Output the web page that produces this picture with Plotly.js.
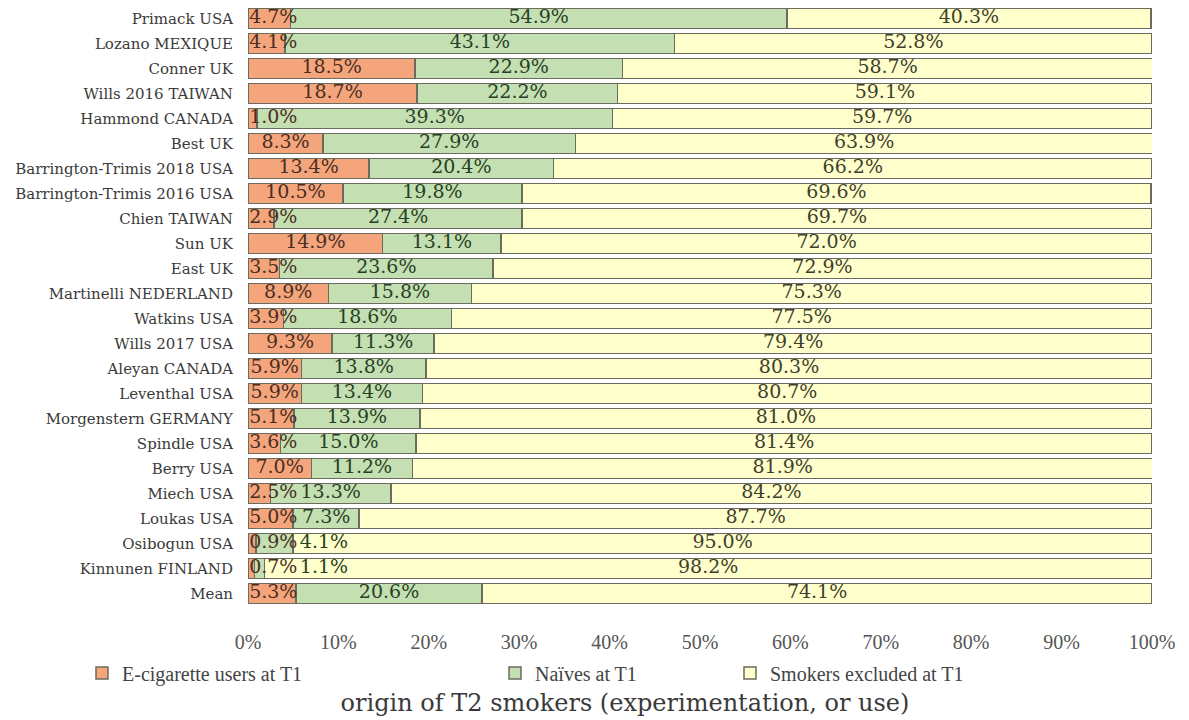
<!DOCTYPE html>
<html>
<head>
<meta charset="utf-8">
<script src="https://cdn.plot.ly/plotly-3.0.1.min.js"></script>
<style>body{margin:0;background:#fff}#chart{width:1189px;height:720px}</style>
</head>
<body>
<div id="chart"></div>
<script>
const studies = ["Primack USA","Lozano MEXIQUE","Conner UK","Wills 2016 TAIWAN","Hammond CANADA","Best UK","Barrington-Trimis 2018 USA","Barrington-Trimis 2016 USA","Chien TAIWAN","Sun UK","East UK","Martinelli NEDERLAND","Watkins USA","Wills 2017 USA","Aleyan CANADA","Leventhal USA","Morgenstern GERMANY","Spindle USA","Berry USA","Miech USA","Loukas USA","Osibogun USA","Kinnunen FINLAND","Mean"];
const ecigUsers = [4.7,4.1,18.5,18.7,1.0,8.3,13.4,10.5,2.9,14.9,3.5,8.9,3.9,9.3,5.9,5.9,5.1,3.6,7.0,2.5,5.0,0.9,0.7,5.3];
const naives = [54.9,43.1,22.9,22.2,39.3,27.9,20.4,19.8,27.4,13.1,23.6,15.8,18.6,11.3,13.8,13.4,13.9,15.0,11.2,13.3,7.3,4.1,1.1,20.6];
const smokersExcluded = [40.3,52.8,58.7,59.1,59.7,63.9,66.2,69.6,69.7,72.0,72.9,75.3,77.5,79.4,80.3,80.7,81.0,81.4,81.9,84.2,87.7,95.0,98.2,74.1];
const seriesNames = ["E-cigarette users at T1","Naïves at T1","Smokers excluded at T1"];
const xTicks = [0,10,20,30,40,50,60,70,80,90,100];

const fillColors = ["#F4A57C","#C4DFB1","#FFFFCC"];
const textColors = ["#4a2e22","#263f26","#3e3e2c"];
const series = [ecigUsers, naives, smokersExcluded];
const serif = "DejaVu Serif";
const narrowSerif = "Liberation Serif";

const traces = [];
const legendIds = ["legend","legend2","legend3"];
series.forEach((vals, i) => {
  traces.push({
    type: "bar", orientation: "h", name: seriesNames[i],
    x: vals, y: studies,
    marker: {color: fillColors[i], line: {color: "#6b6b5e", width: 1.5}},
    hoverinfo: "x+name", legend: legendIds[i]
  });
});

// label positions: centred on segment, nudged right when labels would collide
const labelX = [[],[],[]];
studies.forEach((s, r) => {
  const a = ecigUsers[r], b = naives[r], c = smokersExcluded[r];
  const c0 = a/2, c1 = a + b/2, c2 = a + b + c/2;
  const gap = 5.6;
  const x0 = Math.max(c0, 2.8);
  const x1 = Math.max(c1, x0 + gap);
  const x2 = Math.max(c2, x1 + gap);
  labelX[0].push(x0); labelX[1].push(x1); labelX[2].push(x2);
});
series.forEach((vals, i) => {
  traces.push({
    type: "scatter", mode: "text", x: labelX[i], y: studies,
    text: vals.map(v => v.toFixed(1) + "%"),
    textposition: "middle center",
    textfont: {family: serif, size: 19, color: textColors[i]},
    showlegend: false, hoverinfo: "skip", cliponaxis: false
  });
});

const legendBase = {orientation: "h", yref: "container", y: 1 - 673/720, yanchor: "middle", xanchor: "left",
  font: {family: narrowSerif, size: 20, color: "#444"}, bgcolor: "rgba(0,0,0,0)", itemwidth: 30, tracegroupgap: 0};

const layout = {
  width: 1189, height: 720,
  margin: {l: 248, r: 37, t: 6, b: 114, autoexpand: false},
  barmode: "stack", bargap: 0.2,
  paper_bgcolor: "#fff", plot_bgcolor: "#fff",
  showlegend: true,
  legend: Object.assign({}, legendBase, {x: (82-248)/904}),
  legend2: Object.assign({}, legendBase, {x: (495-248)/904}),
  legend3: Object.assign({}, legendBase, {x: (730-248)/904}),
  xaxis: {range: [0, 100], tickvals: xTicks, ticktext: xTicks.map(t => t + "%"),
    showgrid: false, zeroline: false, showline: false, ticks: "", automargin: false,
    ticklabelstandoff: 22, tickfont: {family: narrowSerif, size: 20, color: "#555"}, fixedrange: true},
  yaxis: {type: "category", autorange: false, range: [studies.length - 0.5, -0.5],
    showgrid: false, zeroline: false,
    showline: false, ticks: "", ticklabelstandoff: 14, automargin: false,
    tickfont: {family: serif, size: 15, color: "#3a3a3a"}, fixedrange: true},
  title: {text: "origin of T2 smokers (experimentation, or use)", xref: "container", yref: "container",
    x: 625/1189, xanchor: "center", y: 1 - 703/720, yanchor: "middle",
    font: {family: serif, size: 24, color: "#3a3a3a"}}
};

Plotly.newPlot("chart", traces, layout, {displayModeBar: false, staticPlot: true});
</script>
</body>
</html>
